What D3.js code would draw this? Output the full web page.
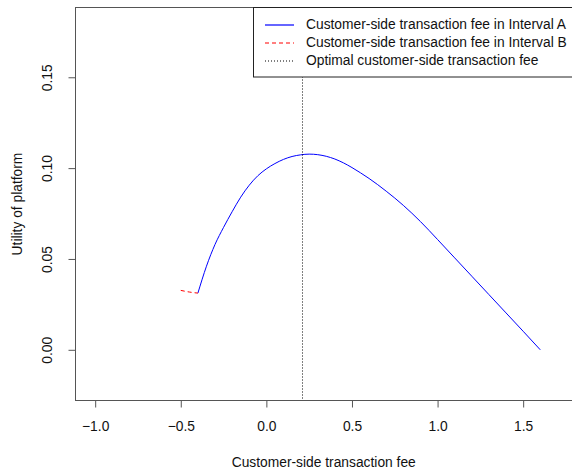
<!DOCTYPE html>
<html>
<head>
<meta charset="utf-8">
<script src="https://cdn.jsdelivr.net/npm/d3@7"></script>
<style>
html,body{margin:0;padding:0;background:#fff;}
svg{display:block;font-family:"Liberation Sans",Arial,sans-serif;}
</style>
</head>
<body>
<svg id="chart" width="572" height="475"></svg>
<script>
// Interval A (blue solid)
const xA = [-0.4,-0.35,-0.3,-0.25,-0.2,-0.15,-0.1,-0.05,0,0.05,0.1,0.15,0.2,0.25,0.3,0.35,0.4,0.45,0.5,0.55,0.6,0.7,0.8,0.9,1.0,1.1,1.2,1.3,1.4,1.5,1.6];
const yA = [0.0312,0.0460,0.0580,0.0674,0.0760,0.0840,0.0906,0.0958,0.0996,0.1025,0.1048,0.1064,0.1073,0.1077,0.1074,0.1065,0.1050,0.1029,0.1003,0.0974,0.0943,0.0873,0.0795,0.0706,0.0607,0.0506,0.0405,0.0304,0.0203,0.0102,0.0000];
// Interval B (red dashed)
const xB = [-0.5,-0.45,-0.4];
const yB = [0.0327,0.0318,0.0312];
// Optimal fee
const optimalFee = 0.21;
const xTicks = [-1.0,-0.5,0.0,0.5,1.0,1.5];
const yTicks = [0.00,0.05,0.10,0.15];
const legendLabels = ["Customer-side transaction fee in Interval A","Customer-side transaction fee in Interval B","Optimal customer-side transaction fee"];
const legendColors = ["#0000ff","#ff0000","#000000"];
const legendDashes = ["none","4,3","1,2"];

const L = 75.5, R = 574, T = 7.5, B = 400.5;
const FS = 13.8;
const svg = d3.select("#chart");
const x = d3.scaleLinear().domain([-1.115, 1.797]).range([L, R]);
const y = d3.scaleLinear().domain([-0.0279, 0.1884]).range([B, T]);

// plot box
svg.append("rect").attr("x", L).attr("y", T).attr("width", R - L).attr("height", B - T)
  .attr("fill", "none").attr("stroke", "#555").attr("stroke-width", 1);

// axes
const xAxis = d3.axisBottom(x).tickValues(xTicks).tickFormat(d3.format(".1f")).tickSize(7).tickPadding(14);
const gx = svg.append("g").attr("transform", `translate(0,${B})`).call(xAxis);
gx.select(".domain").remove();
gx.selectAll("line").attr("stroke", "#555");
gx.selectAll("text").attr("font-size", FS).attr("fill", "#111").attr("font-family", "Liberation Sans, Arial, sans-serif");

const yAxis = d3.axisLeft(y).tickValues(yTicks).tickFormat(d3.format(".2f")).tickSize(7).tickPadding(0);
const gy = svg.append("g").attr("transform", `translate(${L},0)`).call(yAxis);
gy.select(".domain").remove();
gy.selectAll("line").attr("stroke", "#555");
gy.selectAll("text").attr("font-size", FS).attr("fill", "#111")
  .attr("font-family", "Liberation Sans, Arial, sans-serif")
  .attr("text-anchor", "middle").attr("dy", null).attr("x", null)
  .attr("transform", "translate(-27,0) rotate(-90)")
  .attr("dominant-baseline", "middle");

// axis titles
svg.append("text").attr("x", (L + R) / 2 - 1).attr("y", 466.5).attr("text-anchor", "middle")
  .attr("font-size", FS).attr("fill", "#111").text("Customer-side transaction fee");
svg.append("text").attr("transform", `translate(18,${(T + B) / 2}) rotate(-90)`)
  .attr("text-anchor", "middle").attr("dominant-baseline", "middle")
  .attr("font-size", FS).attr("fill", "#111").text("Utility of platform");

// lines
const line = d3.line().x(d => x(d[0])).y(d => y(d[1])).curve(d3.curveMonotoneX);
svg.append("path").datum(xA.map((v, i) => [v, yA[i]])).attr("d", line)
  .style("fill", "none").style("stroke", legendColors[0]).style("stroke-width", 1);
svg.append("path").datum(xB.map((v, i) => [v, yB[i]])).attr("d", line)
  .style("fill", "none").style("stroke", legendColors[1]).style("stroke-width", 1).style("stroke-dasharray", legendDashes[1]);
svg.append("line").attr("x1", Math.round(x(optimalFee)) + 0.5).attr("x2", Math.round(x(optimalFee)) + 0.5)
  .attr("y1", T).attr("y2", B).style("stroke", "#000").style("stroke-width", 1).style("stroke-dasharray", legendDashes[2]);

// legend
const lg = svg.append("g");
lg.append("rect").attr("x", 253.5).attr("y", T).attr("width", R - 253.5).attr("height", 77 - T)
  .style("fill", "#fff").style("stroke", "#222").style("stroke-width", 1);
const rowY = [25, 43, 61];
legendLabels.forEach((lab, i) => {
  lg.append("path").attr("d", `M265,${rowY[i]}H294`)
    .style("fill", "none").style("stroke", legendColors[i]).style("stroke-width", 1.2)
    .style("stroke-dasharray", legendDashes[i]);
  lg.append("text").attr("x", 306).attr("y", rowY[i]).attr("dominant-baseline", "middle")
    .attr("font-size", FS).attr("fill", "#111").text(lab);
});
</script>
</body>
</html>
